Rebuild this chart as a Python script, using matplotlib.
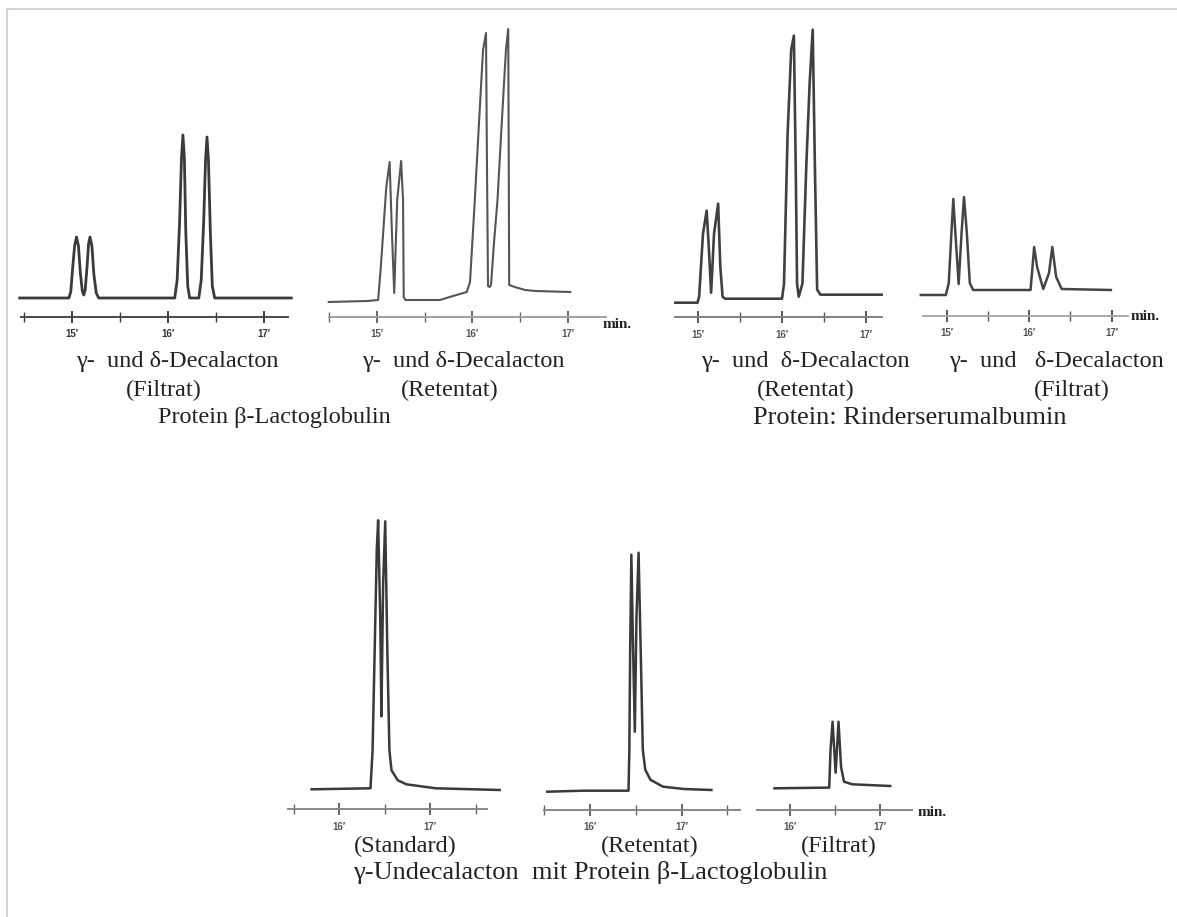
import matplotlib
matplotlib.use('Agg')
import matplotlib.pyplot as plt
from matplotlib.lines import Line2D

# --- chromatogram traces: retention time (min) and detector signal (rel. units) ---

# gamma- and delta-decalactone, beta-lactoglobulin, filtrate
t_blg_filt = [14.46, 14.97, 14.99, 15.01, 15.03, 15.05, 15.07, 15.09, 15.11, 15.125, 15.14, 15.16,
              15.175, 15.19, 15.21, 15.23, 15.255, 15.28,
              16.07, 16.095, 16.12, 16.14, 16.155, 16.17, 16.185, 16.205, 16.225,
              16.32, 16.345, 16.37, 16.39, 16.405, 16.42, 16.44, 16.46, 16.485, 17.28]
s_blg_filt = [0, 0, 6, 30, 52, 61, 52, 25, 7, 3, 8, 32,
              54, 61, 52, 24, 5, 0,
              0, 18, 75, 140, 163, 140, 65, 12, 0,
              0, 18, 75, 138, 161, 138, 65, 12, 0, 0]

# gamma- and delta-decalactone, beta-lactoglobulin, retentate
t_blg_ret = [14.50, 14.90, 15.015, 15.043, 15.10, 15.135, 15.159, 15.183, 15.214, 15.255, 15.275,
             15.282, 15.30, 15.66, 15.762, 15.94, 15.974, 16.02, 16.062, 16.11, 16.141, 16.15,
             16.162, 16.18, 16.193, 16.225, 16.261, 16.30, 16.349, 16.373, 16.378, 16.383,
             16.44, 16.55, 16.66, 17.02]
s_blg_ret = [0, 1, 2, 35, 115, 140, 69, 9, 102, 141, 102,
             5, 2, 2, 5, 10, 20, 95, 169, 252, 269, 150,
             16, 15, 17, 60, 102, 170, 252, 273, 150, 17,
             15, 12, 11, 10]

# gamma- and delta-decalactone, bovine serum albumin, retentate
t_bsa_ret = [14.726, 14.99, 15.01, 15.056, 15.10, 15.127, 15.153, 15.188, 15.237, 15.263, 15.29,
             15.32, 16.0, 16.024, 16.067, 16.11, 16.142, 16.164, 16.18, 16.20, 16.244, 16.29,
             16.33, 16.367, 16.393, 16.42, 16.46, 16.55, 17.19]
s_bsa_ret = [0, 0, 6, 69, 92, 53, 10, 69, 99, 36, 6,
             4, 4, 19, 169, 253, 267, 136, 19, 6, 19, 136,
             219, 273, 136, 13, 8, 8, 8]

# gamma- and delta-decalactone, bovine serum albumin, filtrate
t_bsa_filt = [14.686, 14.99, 15.025, 15.057, 15.08, 15.105, 15.145, 15.18, 15.21, 15.244, 15.28,
              15.32, 16.016, 16.04, 16.06, 16.096, 16.17, 16.24, 16.28, 16.327, 16.394, 16.99]
s_bsa_filt = [0, 0, 12, 62, 96, 62, 11, 62, 98, 62, 12,
              5, 5, 28, 48, 28, 6, 22, 48, 18, 6, 5]

# gamma-undecalactone, standard / retentate / filtrate
t_und_std = [15.699, 16.346, 16.369, 16.392, 16.415, 16.43, 16.453, 16.466, 16.485, 16.508,
             16.531, 16.554, 16.577, 16.646, 16.74, 17.063, 17.766]
s_und_std = [0, 1, 39, 139, 239, 269, 173, 73, 206, 268,
             139, 39, 19, 9, 5, 1, -0.7]

t_und_ret = [15.533, 15.923, 16.421, 16.43, 16.439, 16.452, 16.471, 16.49, 16.508, 16.531,
             16.554, 16.577, 16.604, 16.66, 16.798, 17.027, 17.327]
s_und_ret = [0, 1, 1, 42, 142, 237, 142, 60, 175, 239,
             142, 42, 22, 12, 5, 2.7, 1.7]

t_und_filt = [15.828, 16.436, 16.45, 16.473, 16.507, 16.539, 16.567, 16.60, 16.693, 17.114]
s_und_filt = [0, 0.7, 38, 66.6, 15.6, 66.6, 21.6, 6.6, 4, 2.3]

# --- figure layout in pixels ---
W, H = 1177, 917
fig = plt.figure(figsize=(W / 100, H / 100), dpi=100)
fig.patch.set_facecolor('white')

serif = ['Liberation Serif', 'DejaVu Serif']
sans = ['Liberation Sans', 'DejaVu Sans']


def add_panel(t, s, tref, xref, ppm, base_y, axis_y, top, a0, a1, majors, minors,
              trace_col, trace_lw, axis_col, tick_col, label_col):
    t_lo = min(t[0], a0) - 0.1
    t_hi = max(t[-1], a1) + 0.1
    x0 = xref + (t_lo - tref) * ppm
    x1 = xref + (t_hi - tref) * ppm
    ax = fig.add_axes([x0 / W, 1 - axis_y / H, (x1 - x0) / W, (axis_y - top) / H])
    ax.set_xlim(t_lo, t_hi)
    ax.set_ylim(-(axis_y - base_y), base_y - top)
    ax.patch.set_alpha(0)
    ax.plot(t, s, color=trace_col, lw=trace_lw, solid_joinstyle='round', clip_on=False)
    for side in ['left', 'right', 'top']:
        ax.spines[side].set_visible(False)
    ax.spines['bottom'].set_bounds(a0, a1)
    ax.spines['bottom'].set_color(axis_col)
    ax.spines['bottom'].set_linewidth(1.4)
    ax.set_yticks([])
    ax.set_xticks(majors)
    ax.set_xticks(minors, minor=True)
    ax.set_xticklabels([f"{m}\u2032" for m in majors], fontsize=7, fontweight='bold',
                       color=label_col, family=sans)
    ax.tick_params(axis='x', which='major', direction='inout', length=9, width=1.4,
                   color=tick_col, pad=4.5)
    ax.tick_params(axis='x', which='minor', direction='inout', length=7, width=1.0,
                   color=tick_col)
    return ax


add_panel(t_blg_filt, s_blg_filt, 15, 71.7, 96.3, 298, 316.5, 20, 14.474, 17.246,
          [15, 16, 17], [14.5, 15.5, 16.5], '#3a3a3a', 2.0, '#4a4a4a', '#3a3a3a', '#333333')
add_panel(t_blg_ret, s_blg_ret, 15, 376.7, 95.8, 302, 316.5, 20, 14.5, 17.39,
          [15, 16, 17], [14.5, 15.5, 16.5], '#555555', 1.5, '#a0a0a0', '#666666', '#555555')
add_panel(t_bsa_ret, s_bsa_ret, 15, 698.3, 83.7, 302.7, 317, 20, 14.72, 17.195,
          [15, 16, 17], [15.5, 16.5], '#404040', 1.9, '#808080', '#555555', '#555555')
add_panel(t_bsa_filt, s_bsa_filt, 15, 946.7, 82.5, 295, 316, 20, 14.71, 17.2,
          [15, 16, 17], [15.5, 16.5], '#454545', 1.8, '#a8a8a8', '#555555', '#555555')
add_panel(t_und_std, s_und_std, 16, 339, 91, 789.3, 809, 480, 15.443, 17.63,
          [16, 17], [15.5, 16.5, 17.5], '#3a3a3a', 1.8, '#888888', '#666666', '#555555')
add_panel(t_und_ret, s_und_ret, 16, 590, 91.5, 791.7, 809.5, 480, 15.5, 17.64,
          [16, 17], [15.5, 16.5, 17.5], '#3a3a3a', 1.8, '#888888', '#666666', '#555555')
add_panel(t_und_filt, s_und_filt, 16, 790, 90, 788.3, 809.5, 480, 15.63, 17.35,
          [16, 17], [16.5], '#3a3a3a', 1.8, '#888888', '#666666', '#555555')


def ftext(x, y, s, size=17.5, ha='center', **kw):
    fig.text(x / W, 1 - y / H, s, ha=ha, va='center', fontsize=size, family=serif,
             color='#222222', **kw)


# axis unit labels
ftext(603, 324, 'min.', size=11, ha='left', fontweight='bold')
ftext(1131, 317, 'min.', size=11, ha='left', fontweight='bold')
ftext(918, 812, 'min.', size=11, ha='left', fontweight='bold')

# captions
ftext(177, 362, '\u03b3-  und \u03b4-Decalacton')
ftext(164, 390, '(Filtrat)')
ftext(463, 362, '\u03b3-  und \u03b4-Decalacton')
ftext(450, 390, '(Retentat)')
ftext(158, 418, 'Protein \u03b2-Lactoglobulin', ha='left')

ftext(805, 362, '\u03b3-  und  \u03b4-Decalacton')
ftext(806, 390, '(Retentat)')
ftext(1056, 362, '\u03b3-  und   \u03b4-Decalacton')
ftext(1072, 390, '(Filtrat)')
ftext(753, 418, 'Protein: Rinderserumalbumin', size=19, ha='left')

ftext(405, 846, '(Standard)')
ftext(650, 846, '(Retentat)')
ftext(839, 846, '(Filtrat)')
ftext(353, 872, '\u03b3-Undecalacton  mit Protein \u03b2-Lactoglobulin', size=19, ha='left')

# light frame of the scanned page
fig.add_artist(Line2D([7 / W, 1], [1 - 9 / H, 1 - 9 / H], transform=fig.transFigure,
                      color='#d4d4d4', lw=1.5))
fig.add_artist(Line2D([7 / W, 7 / W], [0, 1 - 9 / H], transform=fig.transFigure,
                      color='#d4d4d4', lw=1.5))

fig.savefig('out.png', dpi=100)
